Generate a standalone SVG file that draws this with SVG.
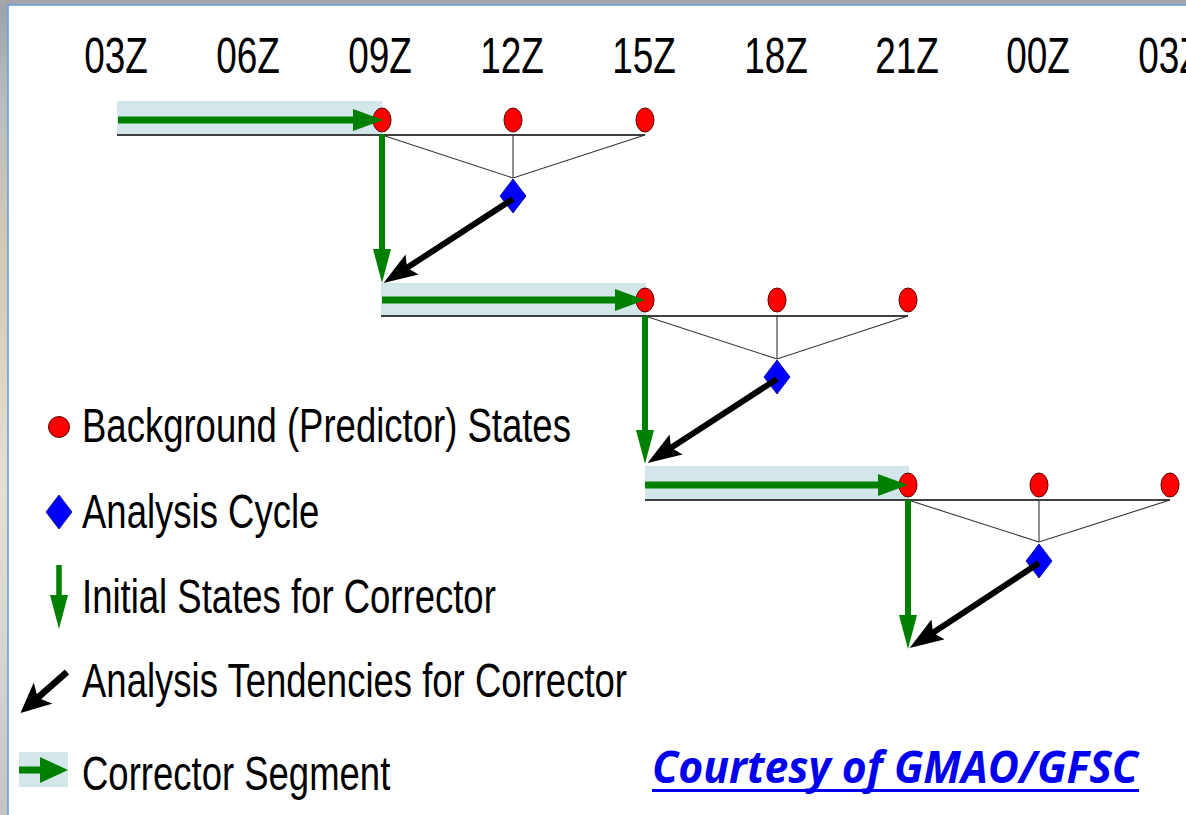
<svg xmlns="http://www.w3.org/2000/svg" width="1186" height="815" viewBox="0 0 1186 815">
<defs>
<linearGradient id="side" x1="0" y1="0" x2="0" y2="1">
<stop offset="0" stop-color="#9aa0a8"/>
<stop offset="0.12" stop-color="#b8bcc2"/>
<stop offset="0.3" stop-color="#d4c8b6"/>
<stop offset="0.6" stop-color="#e6dfd3"/>
<stop offset="0.85" stop-color="#d2d2d2"/>
<stop offset="1" stop-color="#c4c4c4"/>
</linearGradient>
<marker id="gh" markerUnits="userSpaceOnUse" viewBox="0 0 30 22" markerWidth="30" markerHeight="22" refX="10" refY="11" orient="auto">
<path d="M0,0 L30,11 L0,22 Z" fill="#008000"/>
</marker>
<marker id="gv" markerUnits="userSpaceOnUse" viewBox="0 0 34 18" markerWidth="34" markerHeight="18" refX="10" refY="9" orient="auto">
<path d="M0,0 L34,9 L0,18 Z" fill="#008000"/>
</marker>
<marker id="bh" markerUnits="userSpaceOnUse" viewBox="0 0 34 24" markerWidth="34" markerHeight="24" refX="12" refY="12" orient="auto">
<path d="M0,0 L34,12 L0,24 L6,12 Z" fill="#000"/>
</marker>
<marker id="lgh" markerUnits="userSpaceOnUse" viewBox="0 0 28 26" markerWidth="28" markerHeight="26" refX="8" refY="13" orient="auto">
<path d="M0,0 L28,13 L0,26 Z" fill="#008000"/>
</marker>
<marker id="lbh" markerUnits="userSpaceOnUse" viewBox="0 0 30 28" markerWidth="30" markerHeight="28" refX="12" refY="14" orient="auto">
<path d="M0,0 L30,14 L0,28 L7,14 Z" fill="#000"/>
</marker>
</defs>
<style>
.t{font-family:"Liberation Sans",Arial,sans-serif;fill:#000}
.tz{font-size:37px;text-anchor:middle}
.tl{font-size:36.5px}
.band{fill:#d3e7ea}
.base{stroke:#000;stroke-width:1.6;fill:none}
.thin{stroke:#333;stroke-width:1.1;fill:none}
.bg{fill:#ff0000;stroke:#5a0000;stroke-width:1}
.an{fill:#0000ff;stroke:#00006a;stroke-width:0.8}
.gH{stroke:#008000;stroke-width:7;fill:none;marker-end:url(#gh)}
.gV{stroke:#008000;stroke-width:6;fill:none;marker-end:url(#gv)}
.bA{stroke:#000;stroke-width:6;fill:none;marker-end:url(#bh)}
</style>
<rect x="0" y="0" width="1186" height="815" fill="url(#side)"/>
<rect x="0" y="0" width="1186" height="6" fill="#a3a5a8"/>
<rect x="8" y="5" width="1180" height="812" fill="#ffffff" stroke="#6a9fdc" stroke-width="1.6"/>

<g id="time-axis">
<text class="t tz" transform="translate(116,73) scale(1,1.33)">03Z</text>
<text class="t tz" transform="translate(248,73) scale(1,1.33)">06Z</text>
<text class="t tz" transform="translate(380,73) scale(1,1.33)">09Z</text>
<text class="t tz" transform="translate(512,73) scale(1,1.33)">12Z</text>
<text class="t tz" transform="translate(644,73) scale(1,1.33)">15Z</text>
<text class="t tz" transform="translate(776,73) scale(1,1.33)">18Z</text>
<text class="t tz" transform="translate(907,73) scale(1,1.33)">21Z</text>
<text class="t tz" transform="translate(1038,73) scale(1,1.33)">00Z</text>
<text class="t tz" transform="translate(1170,73) scale(1,1.33)">03Z</text>
</g>

<g id="segment1">
<rect class="band" x="117" y="101" width="265" height="33"/>
<line class="base" x1="117" y1="135" x2="645" y2="135"/>
<polyline class="thin" points="382,135 513,178 645,135"/>
<line class="thin" x1="513" y1="135" x2="513" y2="178"/>
</g>
<g id="segment2">
<rect class="band" x="381" y="283" width="265" height="33"/>
<line class="base" x1="381" y1="316" x2="908" y2="316"/>
<polyline class="thin" points="645,316 777,359 908,316"/>
<line class="thin" x1="777" y1="316" x2="777" y2="359"/>
</g>
<g id="segment3">
<rect class="band" x="645" y="466" width="264" height="33"/>
<line class="base" x1="645" y1="500" x2="1170" y2="500"/>
<polyline class="thin" points="908,500 1039,542 1170,500"/>
<line class="thin" x1="1039" y1="500" x2="1039" y2="542"/>
</g>

<g id="bg-09Z"><ellipse class="bg" cx="382" cy="120" rx="9" ry="12"/></g>
<g id="bg-12Z"><ellipse class="bg" cx="513" cy="120" rx="9" ry="12"/></g>
<g id="bg-15Z"><ellipse class="bg" cx="645" cy="120" rx="9" ry="12"/></g>
<g id="bg-15Z-b"><ellipse class="bg" cx="645" cy="300" rx="9" ry="12"/></g>
<g id="bg-18Z"><ellipse class="bg" cx="777" cy="300" rx="9" ry="12"/></g>
<g id="bg-21Z"><ellipse class="bg" cx="908" cy="300" rx="9" ry="12"/></g>
<g id="bg-21Z-b"><ellipse class="bg" cx="908" cy="485" rx="9" ry="12"/></g>
<g id="bg-00Z"><ellipse class="bg" cx="1039" cy="485" rx="9" ry="12"/></g>
<g id="bg-03Z"><ellipse class="bg" cx="1170" cy="485" rx="9" ry="12"/></g>

<g id="ana-12Z"><path class="an" d="M513,179 L526,196 L513,213 L500,196 Z"/></g>
<g id="ana-18Z"><path class="an" d="M777,360 L790,377 L777,394 L764,377 Z"/></g>
<g id="ana-00Z"><path class="an" d="M1039,544 L1052,561 L1039,578 L1026,561 Z"/></g>

<g id="connectors">
<line class="gH" x1="118" y1="120" x2="363" y2="120"/>
<line class="gH" x1="382" y1="300" x2="625" y2="300"/>
<line class="gH" x1="645" y1="485" x2="888" y2="485"/>
<line class="gV" x1="382" y1="134" x2="382" y2="259"/>
<line class="gV" x1="645" y1="316" x2="645" y2="440"/>
<line class="gV" x1="908" y1="500" x2="908" y2="625"/>
<line class="bA" x1="513" y1="199" x2="402" y2="271"/>
<line class="bA" x1="777" y1="379" x2="666" y2="451"/>
<line class="bA" x1="1039" y1="563" x2="928" y2="636"/>
</g>

<g id="legend">
<ellipse class="bg" cx="59" cy="427" rx="10.5" ry="10.5"/>
<text class="t tl" transform="translate(82,442) scale(1,1.3)">Background (Predictor) States</text>
<path class="an" d="M59,495 L72,512 L59,529 L46,512 Z"/>
<text class="t tl" transform="translate(82,528) scale(1,1.3)">Analysis Cycle</text>
<line x1="59" y1="565" x2="59" y2="605" stroke="#008000" stroke-width="5.5" marker-end="url(#gv)"/>
<text class="t tl" transform="translate(82,613) scale(1,1.3)">Initial States for Corrector</text>
<line x1="67" y1="672" x2="34" y2="701" stroke="#000" stroke-width="6.5" marker-end="url(#lbh)"/>
<text class="t tl" transform="translate(82,697) scale(1,1.3)">Analysis Tendencies for Corrector</text>
<rect class="band" x="19" y="752" width="49" height="35"/>
<line x1="19" y1="770" x2="48" y2="770" stroke="#008000" stroke-width="7" marker-end="url(#lgh)"/>
<text class="t tl" transform="translate(82,790) scale(1,1.33)">Corrector Segment</text>
</g>

<g id="credit">
<text x="652" y="783" font-family="'Open Sans','Liberation Sans',sans-serif" font-size="45" font-weight="700" font-style="italic" fill="#0000ee" textLength="486" lengthAdjust="spacingAndGlyphs">Courtesy of GMAO/GFSC</text>
<rect x="652" y="789" width="487" height="3" fill="#0000ee"/>
</g>
</svg>
